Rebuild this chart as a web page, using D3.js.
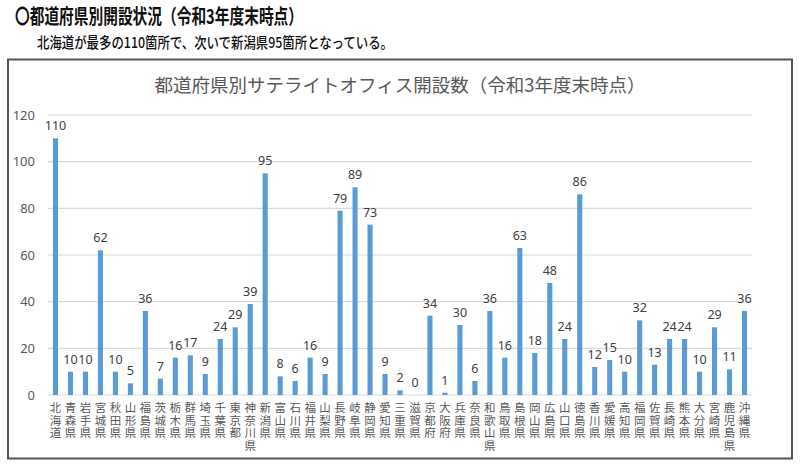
<!DOCTYPE html>
<html><head><meta charset="utf-8">
<script src="https://cdn.jsdelivr.net/npm/d3@7"></script>
<style>
html,body{margin:0;padding:0;background:#fff;}
svg{display:block;font-family:"Noto Sans CJK JP","Noto Sans",sans-serif;}
</style></head>
<body>
<script>
const categories = ["北海道","青森県","岩手県","宮城県","秋田県","山形県","福島県","茨城県","栃木県","群馬県","埼玉県","千葉県","東京都","神奈川県","新潟県","富山県","石川県","福井県","山梨県","長野県","岐阜県","静岡県","愛知県","三重県","滋賀県","京都府","大阪府","兵庫県","奈良県","和歌山県","鳥取県","島根県","岡山県","広島県","山口県","徳島県","香川県","愛媛県","高知県","福岡県","佐賀県","長崎県","熊本県","大分県","宮崎県","鹿児島県","沖縄県"];
const values = [110,10,10,62,10,5,36,7,16,17,9,24,29,39,95,8,6,16,9,79,89,73,9,2,0,34,1,30,6,36,16,63,18,48,24,86,12,15,10,32,13,24,24,10,29,11,36];
const yTicks = [0,20,40,60,80,100,120];
const header = "〇都道府県別開設状況（令和3年度末時点）";
const subtitle = "北海道が最多の110箇所で、次いで新潟県95箇所となっている。";
const chartTitle = "都道府県別サテライトオフィス開設数（令和3年度末時点）";

const W = 800, H = 469;
const svg = d3.select("body").append("svg").attr("width", W).attr("height", H);

svg.append("text").attr("x", 15).attr("y", 23.5)
  .attr("font-size", 20).attr("font-weight", 700).attr("fill", "#111")
  .attr("textLength", 288).attr("lengthAdjust", "spacingAndGlyphs")
  .text(header);
svg.append("text").attr("x", 37).attr("y", 47.5)
  .attr("font-size", 15).attr("font-weight", 500).attr("fill", "#111")
  .attr("textLength", 356).attr("lengthAdjust", "spacingAndGlyphs")
  .text(subtitle);

// chart box
svg.append("rect").attr("x", 8).attr("y", 59.5).attr("width", 784).attr("height", 399)
  .attr("fill", "#fff").attr("stroke", "#555").attr("stroke-width", 2);

svg.append("text").attr("x", 400).attr("y", 92).attr("text-anchor", "middle")
  .attr("font-size", 18.5).attr("fill", "#595959")
  .text(chartTitle);

const x = d3.scaleBand().domain(categories).range([48, 752]).paddingInner(0.66).paddingOuter(0.33);
const y = d3.scaleLinear().domain([0, 120]).range([395, 115]);

// gridlines
svg.append("g").selectAll("line").data(yTicks).join("line")
  .attr("x1", 48).attr("x2", 752)
  .attr("y1", d => y(d)).attr("y2", d => y(d))
  .attr("stroke", "#d9d9d9").attr("stroke-width", 1.2);

// y axis labels
const yAxis = d3.axisLeft(y).tickValues(yTicks).tickSize(0).tickPadding(0);
const yg = svg.append("g").attr("transform", "translate(35,0)").call(yAxis);
yg.select(".domain").remove();
yg.selectAll("text").attr("font-size", 13).attr("fill", "#595959")
  .attr("font-family", "'Noto Sans',sans-serif");

// bars
svg.append("g").selectAll("rect").data(values).join("rect")
  .attr("x", (d, i) => x(categories[i]))
  .attr("width", x.bandwidth())
  .attr("y", d => y(d))
  .attr("height", d => y(0) - y(d))
  .attr("fill", "#5b9bd5");

// value labels
svg.append("g").selectAll("text").data(values).join("text")
  .attr("x", (d, i) => x(categories[i]) + x.bandwidth() / 2)
  .attr("y", d => y(d) - 8)
  .attr("text-anchor", "middle")
  .attr("font-size", 12.5).attr("fill", "#404040")
  .attr("font-family", "'Noto Sans',sans-serif")
  .text(d => d);

// category labels (vertical writing mode)
svg.append("g").selectAll("text").data(categories).join("text")
  .attr("x", d => x(d) + x.bandwidth() / 2)
  .attr("y", 402)
  .attr("text-anchor", "start")
  .style("writing-mode", "vertical-rl")
  .style("text-orientation", "upright")
  .style("letter-spacing", "1px")
  .attr("font-size", 11.5).attr("fill", "#595959")
  .text(d => d);
</script>
</body></html>
